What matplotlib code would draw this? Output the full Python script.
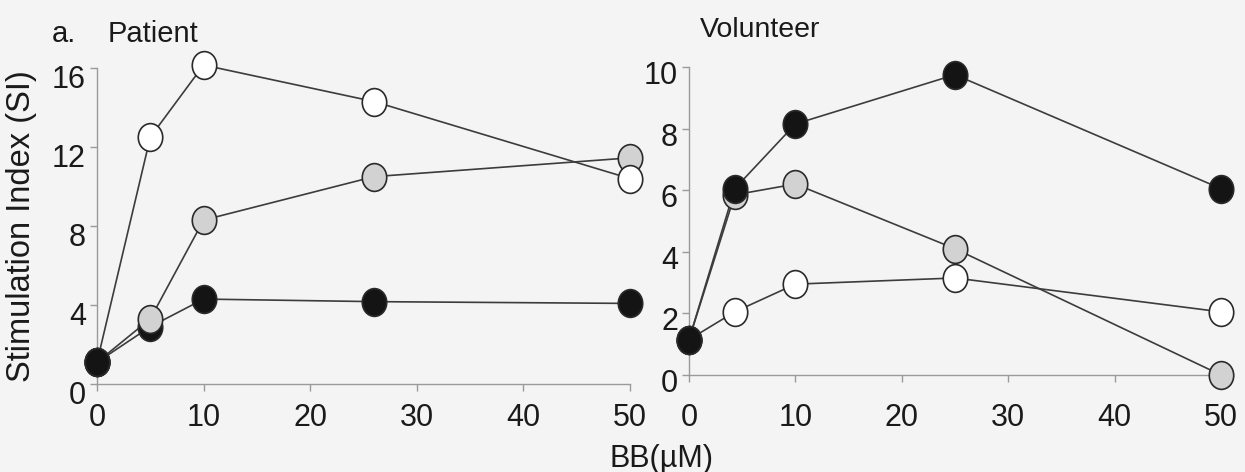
import matplotlib

matplotlib.use("Agg")
import matplotlib.pyplot as plt
from matplotlib.path import Path
from matplotlib.transforms import ScaledTranslation

# BB concentration (uM) at which each culture was read
bb_patient = [0, 5, 10, 26, 50]
bb_volunteer = [0, 4.3, 10, 25, 50]

# stimulation index per series (open / grey / filled symbols)
patient_open = [1.1, 12.5, 16.15, 14.3, 10.4]
patient_grey = [1.1, 3.3, 8.3, 10.5, 11.45]
patient_black = [1.1, 2.9, 4.3, 4.17, 4.08]

volunteer_open = [1.15, 2.05, 2.95, 3.15, 2.05]
volunteer_grey = [1.15, 5.85, 6.2, 4.1, 0.0]
volunteer_black = [1.15, 6.05, 8.15, 9.75, 6.05]

patient_yticks = [0, 4, 8, 12, 16]
volunteer_yticks = [0, 2, 4, 6, 8, 10]
xticks = [0, 10, 20, 30, 40, 50]

FONT = ["Liberation Sans", "DejaVu Sans"]
BG = "#f4f4f4"
AXC = "#9a9a9a"
LINEC = "#3c3c3c"
TXT = "#1a1a1a"

# slightly tall oval symbol
circ = Path.unit_circle()
oval = Path(circ.vertices * [0.88, 1.0], circ.codes)

FILLS = {"open": "white", "grey": "#d2d2d2", "black": "#141414"}


def draw_series(ax, x, y, kind, z):
    ax.plot(x, y, "-", color=LINEC, lw=1.2, zorder=2, clip_on=False)
    ax.plot(x, y, ls="none", marker=oval, ms=20, mfc=FILLS[kind],
            mec="#2a2a2a", mew=1.2, zorder=z, clip_on=False)


def style_axes(ax, yticks, ylim, xpad, label_drop):
    ax.set_facecolor("none")
    ax.set_xlim(0, 50)
    ax.set_ylim(*ylim)
    ax.set_xticks(xticks)
    ax.set_yticks(yticks)
    for s in ("top", "right"):
        ax.spines[s].set_visible(False)
    for s in ("left", "bottom"):
        ax.spines[s].set_color(AXC)
        ax.spines[s].set_linewidth(1.0)
    ax.tick_params(axis="both", direction="out", length=5, width=1.0,
                   color=AXC, labelsize=22, labelcolor=TXT)
    ax.tick_params(axis="x", pad=xpad)
    ax.tick_params(axis="y", pad=3)
    for lab in ax.get_xticklabels() + ax.get_yticklabels():
        lab.set_family(FONT)
    drop = ScaledTranslation(0, -label_drop / 72, ax.figure.dpi_scale_trans)
    for lab in ax.get_yticklabels():
        lab.set_transform(lab.get_transform() + drop)


fig = plt.figure(figsize=(12.45, 4.72), dpi=100, facecolor=BG)
W, H = 1245, 472
ax1 = fig.add_axes([97 / W, 1 - 384 / H, 533 / W, 316 / H])
ax2 = fig.add_axes([689 / W, 1 - 375 / H, 532 / W, 308 / H])

# patient: filled under grey under open, baseline point on top
draw_series(ax1, bb_patient, patient_open, "open", 5)
draw_series(ax1, bb_patient, patient_grey, "grey", 4)
draw_series(ax1, bb_patient, patient_black, "black", 3)
ax1.plot(bb_patient[0], patient_black[0], ls="none", marker=oval, ms=20,
         mfc=FILLS["black"], mec="#2a2a2a", mew=1.2, zorder=6, clip_on=False)
style_axes(ax1, patient_yticks, (0, 16), 9, 6)

# volunteer: filled symbols on top
draw_series(ax2, bb_volunteer, volunteer_open, "open", 3)
draw_series(ax2, bb_volunteer, volunteer_grey, "grey", 4)
draw_series(ax2, bb_volunteer, volunteer_black, "black", 5)
style_axes(ax2, volunteer_yticks, (0, 10), 15, 4)

fig.text(52 / W, 1 - 42 / H, "a.", fontsize=21, family=FONT, va="baseline", color=TXT)
fig.text(108 / W, 1 - 42 / H, "Patient", fontsize=21, family=FONT, va="baseline", color=TXT)
fig.text(700 / W, 1 - 37 / H, "Volunteer", fontsize=20.5, family=FONT, va="baseline", color=TXT)
fig.text(22 / W, 1 - 226 / H, "Stimulation Index (SI)", fontsize=23.5, family=FONT,
         rotation=90, ha="center", va="center", color=TXT)
fig.text(662 / W, 1 - 467 / H, "BB(\u00b5M)", fontsize=22, family=FONT,
         ha="center", va="baseline", color=TXT)

fig.savefig("out.png", dpi=100, facecolor=BG)
